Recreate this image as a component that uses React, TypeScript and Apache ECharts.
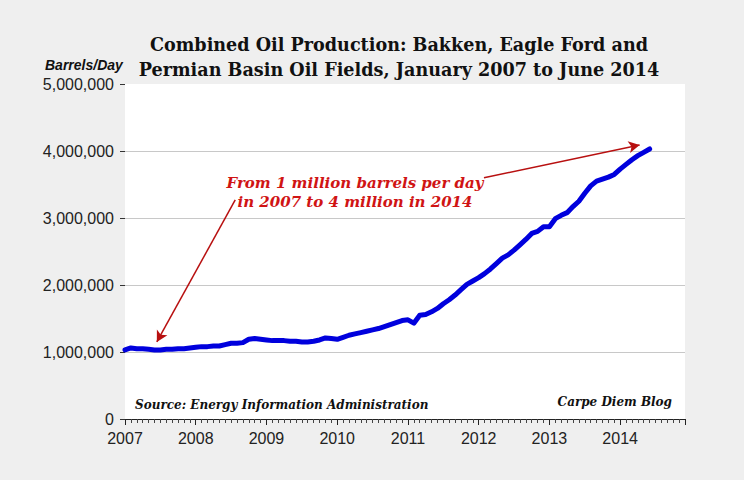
import React, { useEffect, useRef } from "react";
import * as echarts from "echarts";

// Combined oil production, barrels per day, monthly from Jan 2007
const prod2007 = [1030000, 1060000, 1050000, 1050000, 1040000, 1030000, 1030000, 1040000, 1040000, 1050000, 1050000, 1060000];
const prod2008 = [1070000, 1080000, 1080000, 1090000, 1090000, 1110000, 1130000, 1130000, 1140000, 1190000, 1200000, 1190000];
const prod2009 = [1180000, 1170000, 1170000, 1170000, 1160000, 1160000, 1150000, 1150000, 1160000, 1180000, 1210000, 1200000];
const prod2010 = [1190000, 1220000, 1250000, 1270000, 1290000, 1310000, 1330000, 1350000, 1380000, 1410000, 1440000, 1470000];
const prod2011 = [1480000, 1430000, 1550000, 1560000, 1600000, 1650000, 1720000, 1780000, 1850000, 1930000, 2010000, 2060000];
const prod2012 = [2110000, 2170000, 2240000, 2320000, 2400000, 2450000, 2520000, 2600000, 2680000, 2770000, 2800000, 2870000];
const prod2013 = [2870000, 2990000, 3040000, 3080000, 3170000, 3250000, 3370000, 3480000, 3550000, 3580000, 3610000, 3650000];
const prod2014 = [3730000, 3800000, 3870000, 3930000, 3980000, 4030000];

const startYear = 2007;
const yTicks = [0, 1000000, 2000000, 3000000, 4000000, 5000000];

const titleLines = [
  "Combined Oil Production: Bakken, Eagle Ford and",
  "Permian Basin Oil Fields, January 2007 to June 2014",
];
const annotationLines = ["From 1 million barrels per day", "in 2007 to 4 million in 2014"];
const unitLabel = "Barrels/Day";
const sourceLabel = "Source: Energy Information Administration";
const blogLabel = "Carpe Diem Blog";

// arrow endpoints in data space: [month index, barrels/day]
const arrowLow = [[18.7, 3270000], [5.4, 1150000]];
const arrowHigh = [[60.9, 3600000], [87.3, 4090000]];

export default function App() {
  const ref = useRef<HTMLDivElement>(null);

  useEffect(() => {
    if (!ref.current) return;
    const chart = echarts.init(ref.current, null, { renderer: "svg" });
    const all = [...prod2007, ...prod2008, ...prod2009, ...prod2010, ...prod2011, ...prod2012, ...prod2013, ...prod2014];
    const data = all.map((v, i) => [i, v]);
    const red = "#d01414";
    const arrowColor = "#b81010";

    chart.setOption({
      animation: false,
      backgroundColor: "#efefef",
      grid: {
        left: 125,
        right: 59,
        top: 84,
        bottom: 61,
        show: true,
        backgroundColor: "#ffffff",
        borderWidth: 0,
      },
      xAxis: {
        type: "value",
        min: 0,
        max: 95,
        interval: 12,
        axisLine: { show: true, lineStyle: { color: "#222", width: 1 } },
        axisTick: { show: true, length: 6, lineStyle: { color: "#222" } },
        minorTick: { show: true, splitNumber: 12, length: 4, lineStyle: { color: "#444" } },
        splitLine: { show: false },
        axisLabel: {
          margin: 11,
          color: "#222",
          fontFamily: "Liberation Sans, Arial, sans-serif",
          fontSize: 16,
          showMaxLabel: false,
          formatter: (v: number) => (v % 12 === 0 ? String(startYear + v / 12) : ""),
        },
      },
      yAxis: {
        type: "value",
        min: yTicks[0],
        max: yTicks[yTicks.length - 1],
        interval: 1000000,
        axisLine: { show: false },
        axisTick: { show: true, length: 5, lineStyle: { color: "#333" } },
        splitLine: {
          show: true,
          lineStyle: { color: ["#c8c8c8", "#c8c8c8", "#c8c8c8", "#c8c8c8", "#c8c8c8", "#ffffff"], width: 1 },
        },
        axisLabel: {
          margin: 11,
          color: "#222",
          fontFamily: "Liberation Sans, Arial, sans-serif",
          fontSize: 16,
          formatter: (v: number) => v.toLocaleString("en-US"),
        },
      },
      series: [
        {
          type: "line",
          data,
          showSymbol: false,
          symbol: "none",
          lineStyle: { color: "#0000dd", width: 5, join: "round", cap: "round" },
          markLine: {
            silent: true,
            symbol: ["none", "arrow"],
            symbolSize: [9, 11],
            label: { show: false },
            lineStyle: { color: arrowColor, width: 1.5, type: "solid" },
            data: [
              [{ coord: arrowLow[0] }, { coord: arrowLow[1] }],
              [{ coord: arrowHigh[0] }, { coord: arrowHigh[1] }],
            ],
          },
        },
      ],
      graphic: [
        {
          type: "text",
          x: 399,
          y: 32,
          style: {
            text: titleLines.join("\n"),
            fill: "#111",
            font: "bold 17.6px 'DejaVu Serif', Georgia, serif",
            lineHeight: 25,
            textAlign: "center",
          },
        },
        {
          type: "text",
          x: 45,
          y: 58,
          style: {
            text: unitLabel,
            fill: "#111",
            font: "italic bold 14px 'Liberation Sans Narrow', 'Liberation Sans', Arial, sans-serif",
          },
        },
        {
          type: "text",
          x: 355,
          y: 173,
          style: {
            text: annotationLines.join("\n"),
            fill: red,
            font: "italic bold 15px 'DejaVu Serif', Georgia, serif",
            lineHeight: 19,
            textAlign: "center",
          },
        },
        {
          type: "text",
          x: 135,
          y: 399,
          style: {
            text: sourceLabel,
            fill: "#111",
            font: "italic bold 12px 'DejaVu Serif', Georgia, serif",
          },
        },
        {
          type: "text",
          x: 672,
          y: 396,
          style: {
            text: blogLabel,
            fill: "#111",
            font: "italic bold 12px 'DejaVu Serif', Georgia, serif",
            textAlign: "right",
          },
        },
      ],
    });

    return () => chart.dispose();
  }, []);

  return (
    <div style={{ position: "fixed", left: 0, top: 0, width: 744, height: 480, background: "#efefef" }}>
      <div ref={ref} style={{ width: 744, height: 480 }} />
    </div>
  );
}
